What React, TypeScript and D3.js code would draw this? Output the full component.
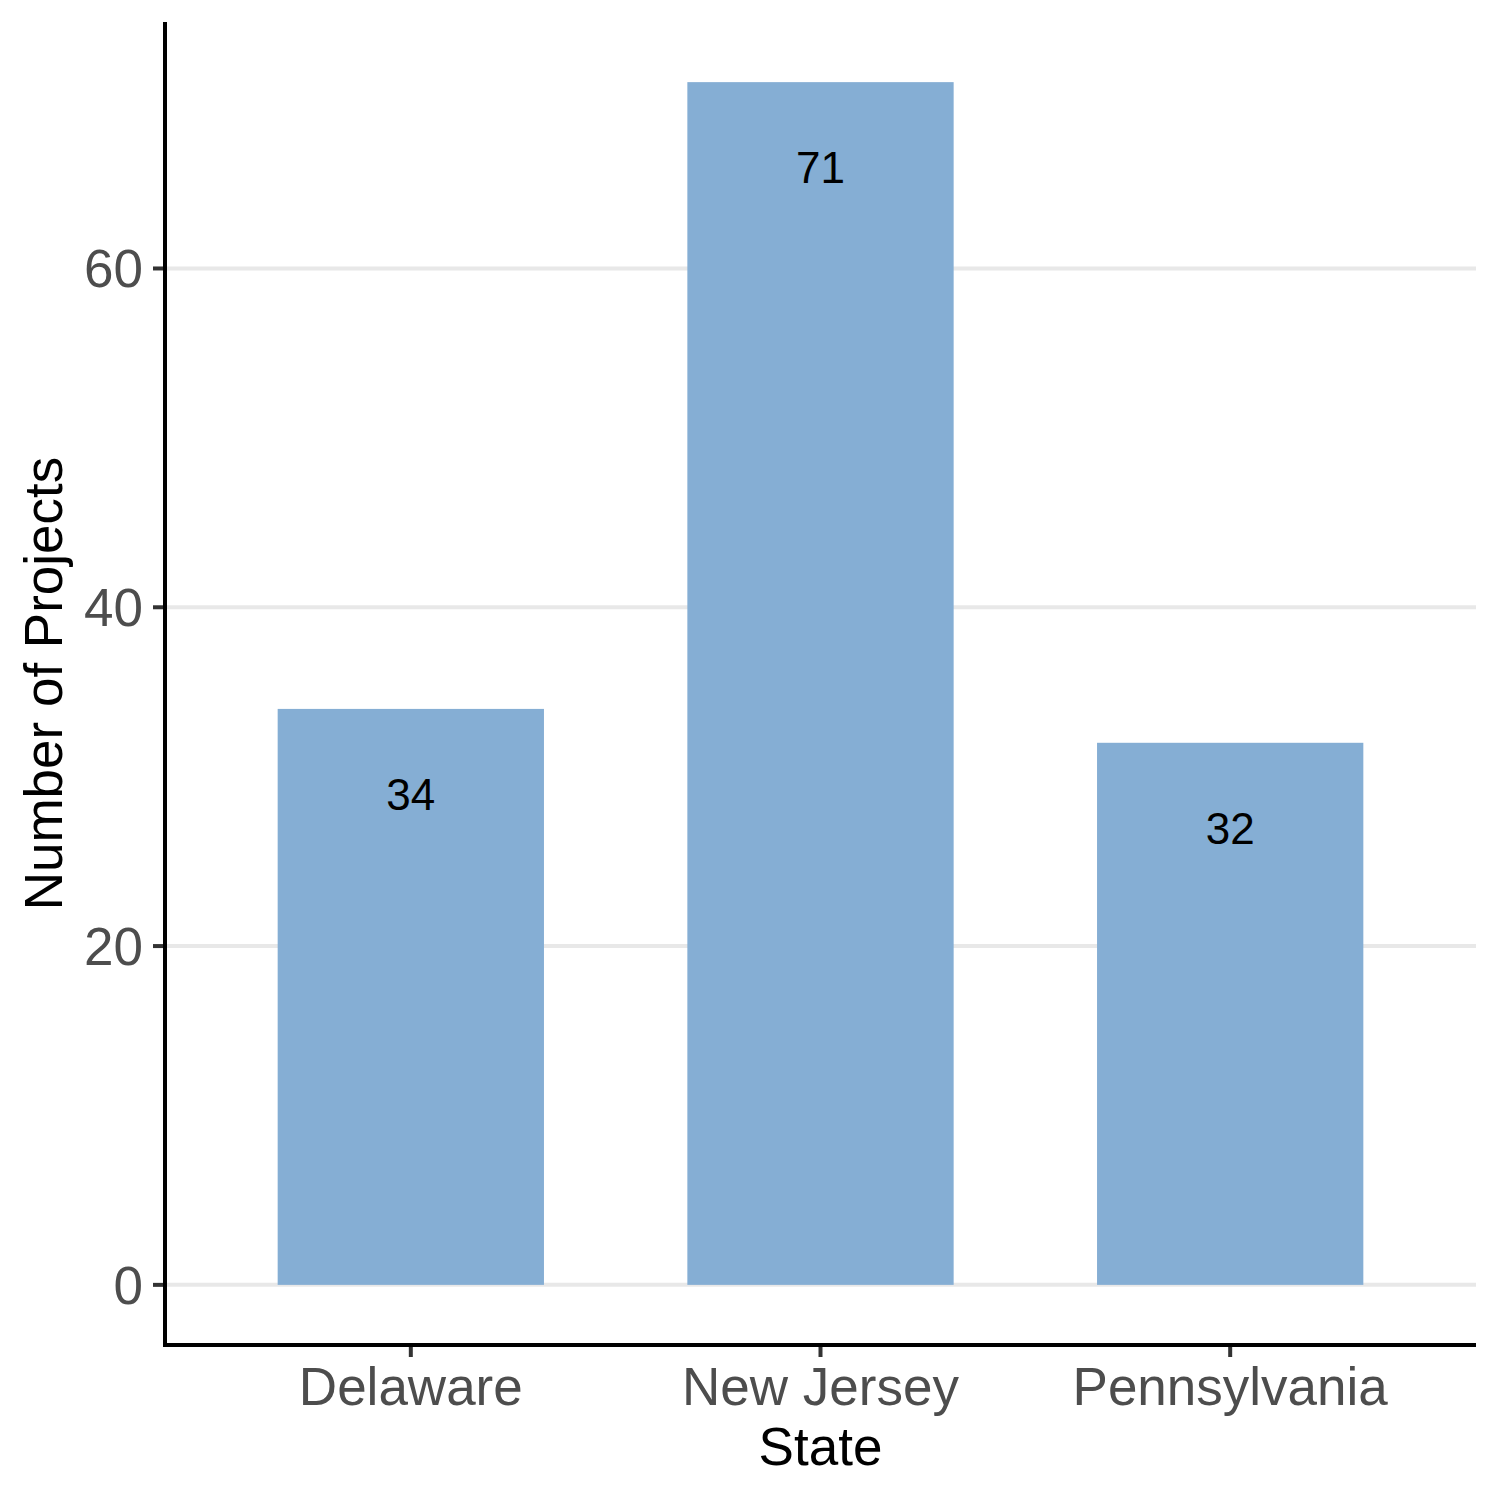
import React, { useEffect, useRef } from "react";
import * as d3 from "d3";

const states = ["Delaware", "New Jersey", "Pennsylvania"];
const projects = [34, 71, 32];
const yTicks = [0, 20, 40, 60];

const App = () => {
  const ref = useRef<SVGSVGElement>(null);

  useEffect(() => {
    const root = d3.select(ref.current);
    root.selectAll("*").remove();

    // panel box (ggplot classic theme look)
    const left = 165;
    const right = 1476;
    const top = 22;
    const bottom = 1345;
    const font = "'Liberation Sans', Arial, sans-serif";

    const maxV = d3.max(projects) || 0;
    const pad = maxV * 0.05;
    const y = d3.scaleLinear().domain([-pad, maxV + pad]).range([bottom, top]);

    // discrete x with 0.6 expansion on each side
    const x = d3.scaleLinear()
      .domain([0.4, states.length + 0.6])
      .range([left, right]);
    const step = x(2) - x(1);
    const barW = step * 0.65;

    const data = states.map((s, i) => ({ state: s, value: projects[i], pos: i + 1 }));

    // gridlines
    root.append("g")
      .selectAll("line")
      .data(yTicks)
      .enter()
      .append("line")
      .attr("x1", left)
      .attr("x2", right)
      .attr("y1", d => y(d))
      .attr("y2", d => y(d))
      .attr("stroke", "#e8e8e8")
      .attr("stroke-width", 4);

    // bars
    root.append("g")
      .selectAll("rect")
      .data(data)
      .enter()
      .append("rect")
      .attr("x", d => x(d.pos) - barW / 2)
      .attr("width", barW)
      .attr("y", d => y(d.value))
      .attr("height", d => y(0) - y(d.value))
      .attr("fill", "#85aed4");

    // value labels inside bars
    root.append("g")
      .selectAll("text")
      .data(data)
      .enter()
      .append("text")
      .attr("x", d => x(d.pos))
      .attr("y", d => y(d.value) + 101)
      .attr("text-anchor", "middle")
      .style("font-family", font)
      .style("font-size", "44px")
      .style("fill", "#000")
      .text(d => d.value);

    // y axis
    const yAxis = root.append("g");
    yAxis.selectAll("line.tick")
      .data(yTicks)
      .enter()
      .append("line")
      .attr("class", "tick")
      .attr("x1", left - 12)
      .attr("x2", left)
      .attr("y1", d => y(d))
      .attr("y2", d => y(d))
      .attr("stroke", "#333333")
      .attr("stroke-width", 4);
    yAxis.selectAll("text")
      .data(yTicks)
      .enter()
      .append("text")
      .attr("x", left - 22)
      .attr("y", d => y(d) + 19)
      .attr("text-anchor", "end")
      .style("font-family", font)
      .style("font-size", "53px")
      .style("fill", "#4d4d4d")
      .text(d => d);

    // x axis
    const xAxis = root.append("g");
    xAxis.selectAll("line")
      .data(data)
      .enter()
      .append("line")
      .attr("x1", d => x(d.pos))
      .attr("x2", d => x(d.pos))
      .attr("y1", bottom)
      .attr("y2", bottom + 12)
      .attr("stroke", "#333333")
      .attr("stroke-width", 4);
    xAxis.selectAll("text")
      .data(data)
      .enter()
      .append("text")
      .attr("x", d => x(d.pos))
      .attr("y", bottom + 60)
      .attr("text-anchor", "middle")
      .style("font-family", font)
      .style("font-size", "53px")
      .style("fill", "#4d4d4d")
      .text(d => d.state);

    // axis lines
    root.append("line")
      .attr("x1", left).attr("x2", left)
      .attr("y1", top).attr("y2", bottom + 2)
      .attr("stroke", "#000").attr("stroke-width", 4);
    root.append("line")
      .attr("x1", left - 2).attr("x2", right)
      .attr("y1", bottom).attr("y2", bottom)
      .attr("stroke", "#000").attr("stroke-width", 4);

    // titles
    root.append("text")
      .attr("x", (left + right) / 2)
      .attr("y", 1465)
      .attr("text-anchor", "middle")
      .style("font-family", font)
      .style("font-size", "53px")
      .style("fill", "#000")
      .text("State");

    root.append("text")
      .attr("transform", `translate(62, ${(top + bottom) / 2}) rotate(-90)`)
      .attr("text-anchor", "middle")
      .style("font-family", font)
      .style("font-size", "53px")
      .style("fill", "#000")
      .text("Number of Projects");
  }, []);

  return (
    <svg
      ref={ref}
      width={1500}
      height={1500}
      style={{ position: "absolute", left: 0, top: 0, background: "#fff" }}
    />
  );
};

export default App;
